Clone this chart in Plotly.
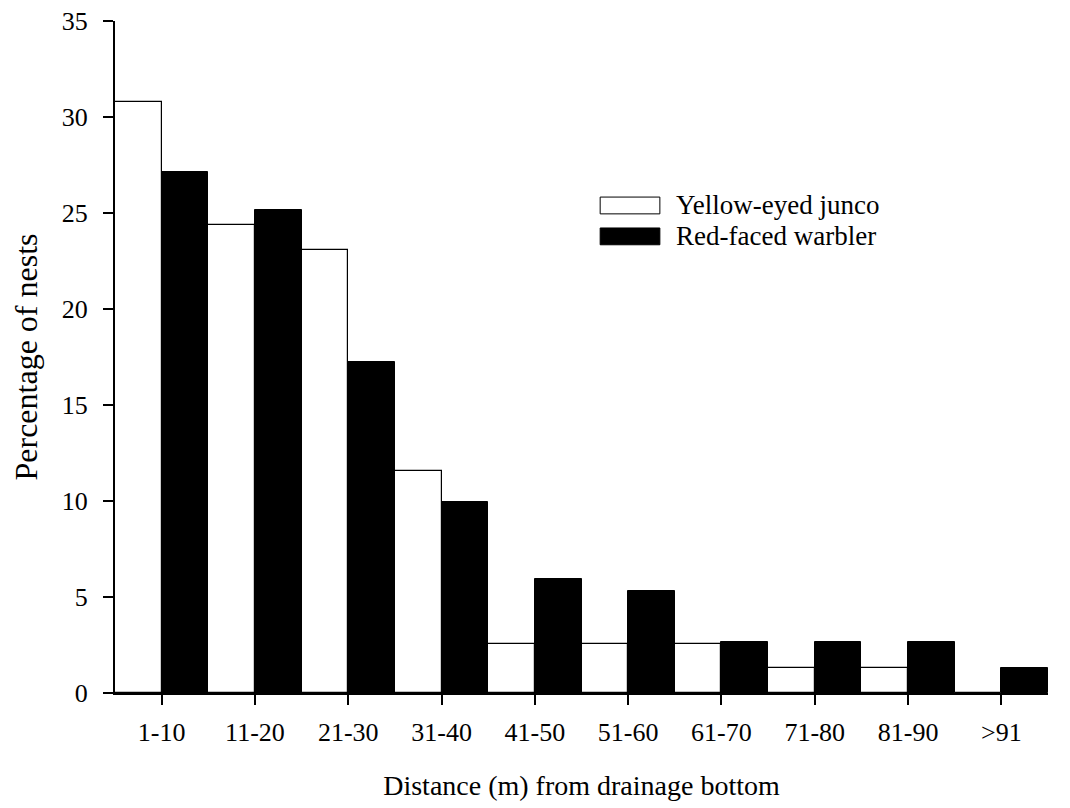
import plotly.graph_objects as go

categories = ["1-10", "11-20", "21-30", "31-40", "41-50", "51-60", "61-70", "71-80", "81-90", ">91"]
junco = [30.77, 24.36, 23.08, 11.54, 2.56, 2.56, 2.56, 1.28, 1.28, 0.0]
warbler = [27.15, 25.17, 17.22, 9.93, 5.96, 5.30, 2.65, 2.65, 2.65, 1.32]
series_names = ["Yellow-eyed junco", "Red-faced warbler"]
y_ticks = [0, 5, 10, 15, 20, 25, 30, 35]

FONT = "Liberation Serif, Times New Roman, serif"

fig = go.Figure()
fig.add_trace(go.Bar(x=categories, y=junco, name=series_names[0],
                     marker=dict(color="white", line=dict(color="black", width=1.2)),
                     showlegend=False))
fig.add_trace(go.Bar(x=categories, y=warbler, name=series_names[1],
                     marker=dict(color="black", line=dict(color="black", width=1)),
                     showlegend=False))

# manual legend with wide swatches
legend_items = [(series_names[0], "white", 0.738, 0.713), (series_names[1], "black", 0.692, 0.667)]
for name, col, y1, y0 in legend_items:
    fig.add_shape(type="rect", xref="paper", yref="paper", x0=0.52, x1=0.584, y0=y0, y1=y1,
                  fillcolor=col, line=dict(color="black", width=1))
    fig.add_annotation(xref="paper", yref="paper", x=0.599, y=(y0 + y1) / 2, text=name,
                       showarrow=False, xanchor="left", yanchor="middle",
                       font=dict(family=FONT, size=27, color="black"))

fig.update_layout(
    width=1070, height=808,
    margin=dict(l=107, r=30, t=13, b=123),
    paper_bgcolor="white", plot_bgcolor="white",
    barmode="group", bargap=0, bargroupgap=0,
    font=dict(family=FONT, size=26, color="black"),
)
fig.update_xaxes(
    range=[-0.5, 9.5], showline=True, linecolor="black", linewidth=2,
    ticks="outside", ticklen=10, tickwidth=1.5, tickcolor="black", ticklabelstandoff=5,
    tickfont=dict(family=FONT, size=26), showgrid=False, zeroline=False,
    ticklabeloverflow="allow", automargin=False,
    title=dict(text="Distance (m) from drainage bottom", font=dict(family=FONT, size=28), standoff=29),
)
fig.update_yaxes(
    range=[0, 35], tickvals=y_ticks, showline=True, linecolor="black", linewidth=2,
    ticks="outside", ticklen=10, tickwidth=1.5, tickcolor="black", ticklabelstandoff=10,
    tickfont=dict(family=FONT, size=26), showgrid=False, zeroline=False,
    ticklabeloverflow="allow", automargin=False,
    title=dict(text="Percentage of nests", font=dict(family=FONT, size=32), standoff=21),
)

fig.write_html("out.html")
